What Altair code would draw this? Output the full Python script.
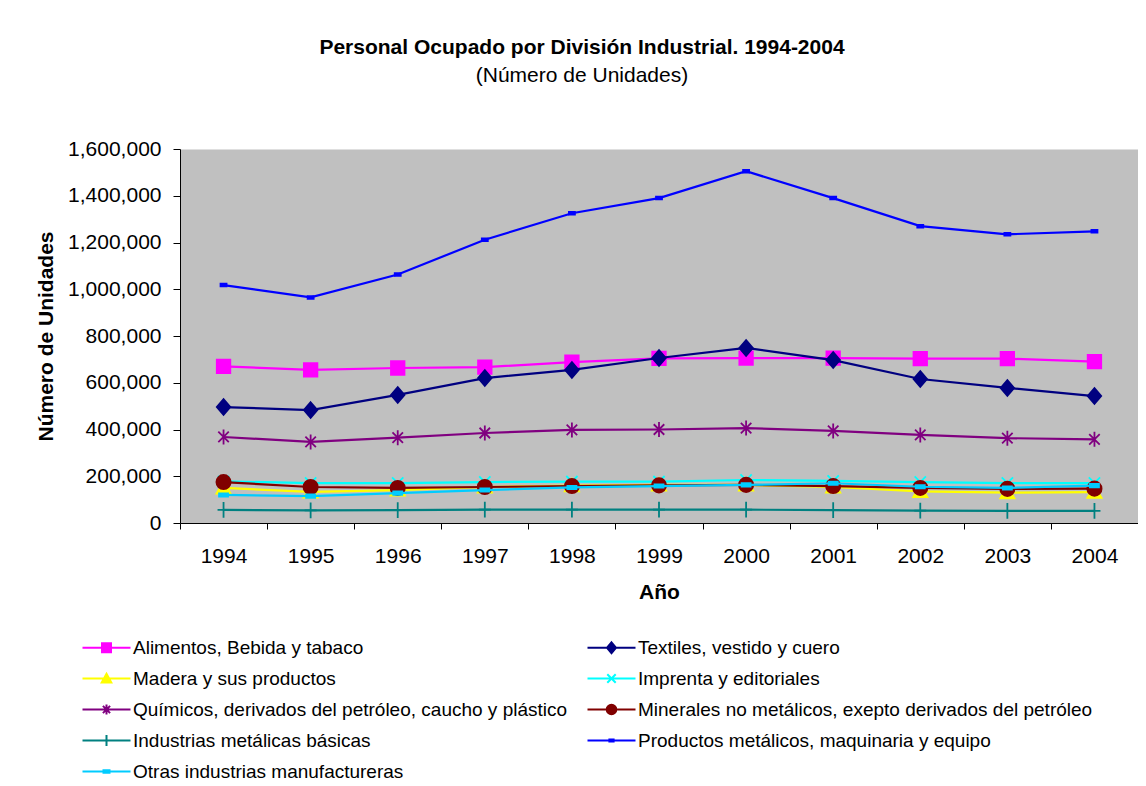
import altair as alt
import pandas as pd

years = [1994, 1995, 1996, 1997, 1998, 1999, 2000, 2001, 2002, 2003, 2004]

series = [
    "Alimentos, Bebida y tabaco",
    "Textiles, vestido y cuero",
    "Madera y sus productos",
    "Imprenta y editoriales",
    "Químicos, derivados del petróleo, caucho y plástico",
    "Minerales no metálicos, exepto derivados del petróleo",
    "Industrias metálicas básicas",
    "Productos metálicos, maquinaria y equipo",
    "Otras industrias manufactureras",
]

alimentos = [670000, 655000, 663000, 667000, 688000, 704000, 705000, 705000, 703000, 703000, 690000]
textiles = [496000, 483000, 548000, 620000, 655000, 706000, 749000, 697000, 616000, 578000, 543000]
madera = [150000, 133000, 141000, 154000, 160000, 163000, 163000, 154000, 135000, 130000, 132000]
imprenta = [178000, 171000, 171000, 175000, 177000, 177000, 184000, 180000, 175000, 171000, 171000]
quimicos = [368000, 347000, 365000, 385000, 398000, 400000, 406000, 394000, 377000, 363000, 358000]
minerales = [175000, 154000, 150000, 154000, 158000, 161000, 163000, 158000, 150000, 146000, 147000]
metalicas = [56000, 54000, 55000, 57000, 57000, 57000, 57000, 55000, 53000, 52000, 52000]
productos = [1018000, 965000, 1063000, 1212000, 1325000, 1390000, 1505000, 1390000, 1270000, 1235000, 1248000]
otras = [120000, 115000, 128000, 141000, 152000, 158000, 163000, 170000, 155000, 150000, 160000]

values = [alimentos, textiles, madera, imprenta, quimicos, minerales, metalicas, productos, otras]

colors = ["#FF00FF", "#000080", "#FFFF00", "#00FFFF", "#800080", "#800000", "#008080", "#0000FF", "#00CCFF"]

# marker glyphs (unit coordinates)
markers = [
    "M-0.9,-0.9H0.9V0.9H-0.9Z",                                   # square
    "M0,-1.05L0.9,0L0,1.05L-0.9,0Z",                               # diamond
    "M0,-0.9L0.95,0.75H-0.95Z",                                    # triangle
    "M-0.75,-0.75L0.75,0.75M-0.75,0.75L0.75,-0.75",                # x
    "M-0.7,-0.7L0.7,0.7M-0.7,0.7L0.7,-0.7M0,-1V1",                 # asterisk
    "M-0.95,0A0.95,0.95,0,1,0,0.95,0A0.95,0.95,0,1,0,-0.95,0Z",    # circle
    "M-0.8,0H0.8M0,-1.05V1.05",                                    # plus
    "M-0.4,-0.18H0.4V0.18H-0.4Z",                                  # dash small
    "M-0.6,-0.22H0.6V0.22H-0.6Z",                                  # dash
]

# legend glyphs: a horizontal line with the marker in its middle
legend_paths = [
    "M-4,0H4M-0.75,-0.75H0.75V0.75H-0.75Z",
    "M-4,0H4M0,-0.9L0.75,0L0,0.9L-0.75,0Z",
    "M-4,0H4M0,-0.8L0.8,0.65H-0.8Z",
    "M-4,0H4M-0.7,-0.7L0.7,0.7M-0.7,0.7L0.7,-0.7",
    "M-4,0H4M-0.6,-0.6L0.6,0.6M-0.6,0.6L0.6,-0.6M0,-0.85V0.85",
    "M-4,0H4M-0.8,0A0.8,0.8,0,1,0,0.8,0A0.8,0.8,0,1,0,-0.8,0Z",
    "M-4,0H4M0,-0.9V0.9",
    "M-4,0H4M-0.35,-0.15H0.35V0.15H-0.35Z",
    "M-4,0H4M-0.5,-0.2H0.5V0.2H-0.5Z",
]

rows = []
for s, vals in zip(series, values):
    for y, v in zip(years, vals):
        rows.append({"serie": s, "year": str(y), "value": v})
df = pd.DataFrame(rows)

FONT = "Liberation Sans"

x_enc = alt.X(
    "year:O",
    title="Año",
    scale=alt.Scale(type="band", paddingInner=0, paddingOuter=0),
    axis=alt.Axis(
        labelAngle=0,
        tickBand="extent",
        tickSize=6,
        labelPadding=16,
        labelFontSize=21,
        titleFontSize=21,
        titleFontWeight="bold",
        titlePadding=15,
        domainColor="black",
        tickColor="black",
        labelColor="black",
        titleColor="black",
        grid=False,
    ),
)
y_enc = alt.Y(
    "value:Q",
    title="Número de Unidades",
    scale=alt.Scale(domain=[0, 1600000], nice=False),
    axis=alt.Axis(
        values=[0, 200000, 400000, 600000, 800000, 1000000, 1200000, 1400000, 1600000],
        format=",d",
        tickSize=7,
        labelPadding=12,
        labelFontSize=21,
        titleFontSize=21,
        titleFontWeight="bold",
        titlePadding=11,
        domainColor="black",
        tickColor="black",
        labelColor="black",
        titleColor="black",
        grid=False,
    ),
)

base = alt.Chart(df)
layers = []
for s, c, m in zip(series, colors, markers):
    sub = base.transform_filter(alt.datum.serie == s)
    layers.append(sub.mark_line(color=c, strokeWidth=2.2).encode(x=x_enc, y=y_enc))
    layers.append(
        sub.mark_point(shape=m, size=225, filled=True, fill=c, stroke=c, strokeWidth=1.8, opacity=1).encode(
            x=x_enc, y=y_enc
        )
    )

legend_layer = base.transform_filter("false").mark_point(filled=True, opacity=1).encode(
    x=x_enc,
    y=y_enc,
    fill=alt.Fill("serie:N", scale=alt.Scale(domain=series, range=colors), sort=series,
                  legend=alt.Legend(title=None)),
    stroke=alt.Stroke("serie:N", scale=alt.Scale(domain=series, range=colors), sort=series,
                      legend=alt.Legend(title=None)),
    shape=alt.Shape("serie:N", scale=alt.Scale(domain=series, range=legend_paths), sort=series,
                    legend=alt.Legend(title=None)),
)
layers.append(legend_layer)

chart = (
    alt.layer(*layers)
    .properties(
        width=958,
        height=374,
        autosize=alt.AutoSizeParams(type="none"),
        padding={"left": 172, "top": 141, "right": 0, "bottom": 257},
        title=alt.TitleParams(
            "Personal Ocupado por División Industrial. 1994-2004",
            subtitle="(Número de Unidades)",
            anchor="middle",
            dx=-77,
            offset=52,
            fontSize=21,
            subtitleFontSize=21,
            subtitlePadding=7,
            font=FONT,
            subtitleFont=FONT,
            color="black",
            subtitleColor="black",
        ),
    )
    .configure(font=FONT)
    .configure_view(fill="#C0C0C0", stroke="transparent")
    .configure_legend(
        orient="none",
        direction="horizontal",
        legendX=-83,
        legendY=489,
        columns=2,
        columnPadding=15,
        rowPadding=11,
        labelFontSize=19,
        labelColor="black",
        labelFont=FONT,
        labelLimit=700,
        symbolSize=144,
        symbolStrokeWidth=2,
        labelOffset=17,
    )
)

chart.save("out.html", embed_options={"renderer": "svg", "actions": False})
